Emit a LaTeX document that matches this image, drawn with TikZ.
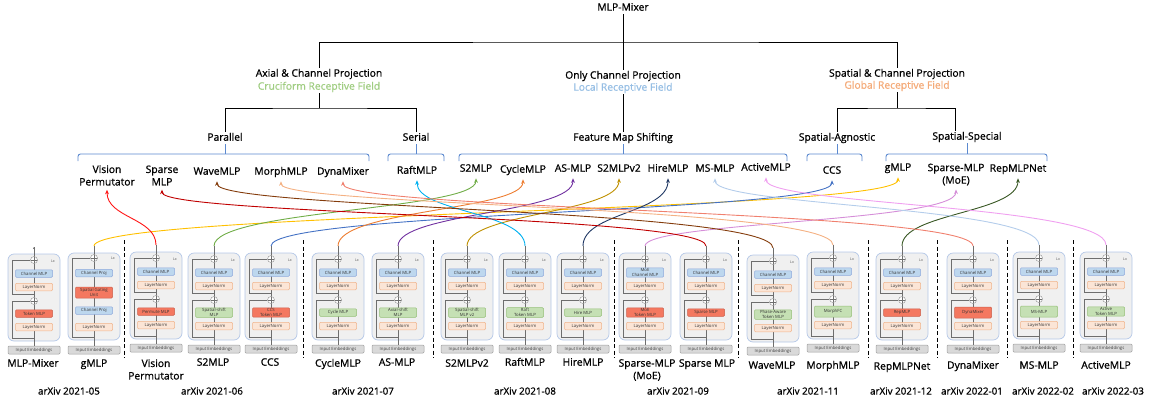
\documentclass[tikz,border=0pt]{standalone}
\usepackage{fontspec}
\setmainfont{Open Sans}
\newfontfamily\heavyfont{Open Sans}[FakeBold=0.9]
\usetikzlibrary{arrows.meta}

% tree and bracket colours
\definecolor{brkblue}{RGB}{91,137,207}
\definecolor{crucgreen}{RGB}{160,205,130}
\definecolor{localblue}{RGB}{150,190,228}
\definecolor{globalorange}{RGB}{244,170,120}
% block colours
\definecolor{blkfill}{RGB}{240,240,240}
\definecolor{blkborder}{RGB}{180,199,231}
\definecolor{bluefill}{RGB}{189,215,238}
\definecolor{blueborder}{RGB}{143,170,220}
\definecolor{lnfill}{RGB}{251,229,214}
\definecolor{lnborder}{RGB}{240,180,140}
\definecolor{redfill}{RGB}{244,120,96}
\definecolor{redborder}{RGB}{205,95,75}
\definecolor{greenfill}{RGB}{197,224,180}
\definecolor{greenborder}{RGB}{150,192,120}
\definecolor{barfill}{RGB}{217,217,217}
\definecolor{barborder}{RGB}{160,160,160}
\definecolor{wiregray}{RGB}{110,110,110}
% link colours
\definecolor{cGMLP}{RGB}{255,192,0}
\definecolor{cVIP}{RGB}{255,20,20}
\definecolor{cSTwo}{RGB}{112,173,71}
\definecolor{cCCS}{RGB}{68,114,196}
\definecolor{cCycle}{RGB}{237,125,49}
\definecolor{cAS}{RGB}{112,48,160}
\definecolor{cSTwoV}{RGB}{191,144,0}
\definecolor{cRaft}{RGB}{0,176,240}
\definecolor{cHire}{RGB}{32,56,100}
\definecolor{cMoE}{RGB}{213,142,216}
\definecolor{cSparse}{RGB}{192,0,0}
\definecolor{cWave}{RGB}{132,60,12}
\definecolor{cMorph}{RGB}{244,177,131}
\definecolor{cRep}{RGB}{56,87,35}
\definecolor{cDyna}{RGB}{240,128,110}
\definecolor{cMS}{RGB}{180,205,235}
\definecolor{cActive}{RGB}{240,160,240}

\tikzset{
  tree/.style={line width=0.8pt, draw=black},
  brk/.style={line width=0.9pt, draw=brkblue, rounded corners=2.5pt},
  lvl/.style={font=\heavyfont\fontsize{10.3}{12}\selectfont, inner sep=1pt, text height=7.8pt, text depth=2.4pt},
  tn/.style={font=\heavyfont\fontsize{10.3}{12.5}\selectfont, inner xsep=1pt, inner ysep=4pt, align=center},
  tnone/.style={tn, text height=7.8pt, text depth=2.4pt},
  bn/.style={font=\heavyfont\fontsize{10.3}{12.5}\selectfont, inner sep=1pt, align=center},
  bnone/.style={bn, text height=7.8pt, text depth=2.4pt},
  dt/.style={font=\heavyfont\fontsize{9.8}{12}\selectfont, inner sep=1pt},
  outerbox/.style={draw=blkborder, fill=blkfill, line width=0.7pt, rounded corners=6pt,
    minimum width=52pt, minimum height=87pt, inner sep=0pt},
  inbar/.style={draw=barborder, fill=barfill, line width=0.5pt, rounded corners=1pt,
    minimum width=52pt, minimum height=8pt, inner sep=0pt,
    font=\fontsize{4.3}{5}\selectfont, text=black!75},
  sub/.style={line width=0.5pt, rounded corners=1pt, minimum width=37pt, minimum height=7.5pt,
    inner sep=0.6pt, align=center, font=\fontsize{4.3}{5}\selectfont, text=black!80},
  bluebox/.style={sub, draw=blueborder, fill=bluefill},
  lnbox/.style={sub, draw=lnborder, fill=lnfill},
  redbox/.style={sub, draw=redborder, fill=redfill},
  greenbox/.style={sub, draw=greenborder, fill=greenfill},
  tall/.style={minimum height=11pt},
  wire/.style={draw=wiregray, line width=0.5pt},
  plus/.style={circle, draw=wiregray!80, fill=white, line width=0.4pt, minimum size=7pt, inner sep=0pt,
    path picture={\draw[wiregray, line width=0.4pt]
      (path picture bounding box.north) -- (path picture bounding box.south)
      (path picture bounding box.west) -- (path picture bounding box.east);}},
  lxlbl/.style={font=\fontsize{3.6}{4}\selectfont, inner sep=0pt, text=black!70},
  cv/.style={line width=0.9pt, -{Stealth[length=4.5pt, width=3.8pt]}},
  dsh/.style={line width=0.9pt, dash pattern=on 4pt off 2.5pt},
}

% residual block: prefix, left x, top y, upper text, upper style, token text, token style
\newcommand\mlpblk[7]{%
\begin{scope}[shift={(#2,#3)}]
  \node[outerbox] (#1-box) at (26,43.5) {};
  \node[inbar] (#1-in) at (26,96) {Input Embeddings};
  \coordinate (#1-top) at (26,-7);
  \coordinate (#1-sa) at (26,84);
  \coordinate (#1-sb) at (26,40);
  \draw[wire] (#1-in.north) -- (#1-top);
  \node[plus] (#1-c1) at (26,6) {};
  \node[plus] (#1-c2) at (26,47) {};
  \node[#5] (#1-a) at (26,19.5) {#4};
  \node[lnbox] (#1-n1) at (26,33) {LayerNorm};
  \node[#7] (#1-b) at (26,59.5) {#6};
  \node[lnbox] (#1-n2) at (26,73) {LayerNorm};
  \draw[wire] (#1-sa) -| (4,47) -- (#1-c2.west);
  \draw[wire] (#1-sb) -| (4,6) -- (#1-c1.west);
  \node[lxlbl] (#1-lx) at (45,7) {Lx};
\end{scope}}

% gated block with a single residual
\newcommand\gmlpblk[3]{%
\begin{scope}[shift={(#2,#3)}]
  \node[outerbox] (#1-box) at (26,43.5) {};
  \node[inbar] (#1-in) at (26,97) {Input Embeddings};
  \coordinate (#1-top) at (26,-7);
  \coordinate (#1-sa) at (26,84);
  \draw[wire] (#1-in.north) -- (#1-top);
  \node[plus] (#1-c1) at (26,5) {};
  \node[bluebox] (#1-a) at (26,20) {Channel Proj};
  \node[redbox, tall] (#1-g) at (26,39.5) {Spatial Gating\\Unit};
  \node[bluebox] (#1-b) at (26,57.5) {Channel Proj};
  \node[lnbox] (#1-n) at (26,74) {LayerNorm};
  \draw[wire] (#1-sa) -| (4,5) -- (#1-c1.west);
  \node[lxlbl] (#1-lx) at (45,5) {Lx};
\end{scope}}

% curved link from a block output up to a method name
\newcommand\link[4]{\draw[cv, #1] (#2) .. controls (#2 |- 0,#4) and (#3 |- 0,#4) .. (#3);}

\begin{document}
\begin{tikzpicture}[x=1pt, y=-1pt]
\useasboundingbox (0,0) rectangle (1153,402);

% ---------------- taxonomy tree ----------------
\node[lvl] (root) at (623,8) {MLP-Mixer};
\coordinate (j0) at (623,42);
\node[lvl] (axial) at (319,74) {Axial \& Channel Projection};
\node[lvl, text=crucgreen] (axialrf) at (319,87) {Cruciform Receptive Field};
\node[lvl] (only) at (623,76) {Only Channel Projection};
\node[lvl, text=localblue] (onlyrf) at (623,88) {Local Receptive Field};
\node[lvl] (spat) at (897,74) {Spatial \& Channel Projection};
\node[lvl, text=globalorange] (spatrf) at (897,86) {Global Receptive Field};
\draw[tree] (root.south) -- (only.north);
\draw[tree] (axial.north) |- (j0) -| (spat.north);

\coordinate (ja) at (319,108);
\node[lvl] (par) at (225,138) {Parallel};
\node[lvl] (ser) at (416,138) {Serial};
\draw[tree] (axialrf.south) -- (ja);
\draw[tree] (par.north) |- (ja) -| (ser.north);

\node[lvl] (fms) at (623,138) {Feature Map Shifting};
\draw[tree] (onlyrf.south) -- (fms.north);

\coordinate (jg) at (897,108);
\node[lvl] (agn) at (837,138) {Spatial-Agnostic};
\node[lvl] (spe) at (967,137) {Spatial-Special};
\coordinate (spetop) at (955,131);
\draw[tree] (spatrf.south) -- (jg);
\draw[tree] (agn.north) |- (jg) -| (spetop);

% brackets
\draw[brk] (78,161) |- (369,154) -- (369,161);
\draw[brk] (par.south) -- (225,154);
\draw[brk] (388,161) |- (444,154) -- (444,161);
\draw[brk] (ser.south) -- (416,154);
\draw[brk] (459,161) |- (787,154) -- (787,161);
\draw[brk] (fms.south) -- (623,154);
\draw[brk] (807,161) |- (862,154) -- (862,161);
\draw[brk] (agn.south) -- (837,154);
\draw[brk] (886,161) |- (1047,154) -- (1047,161);
\draw[brk] (spe.south) -- (967,154);

% method names
\node[tn] (t-vip) at (107,175.5) {Vision\\Permutator};
\node[tn] (t-sparse) at (162,175.5) {Sparse\\MLP};
\node[tnone] (t-wave) at (217,172) {WaveMLP};
\node[tnone] (t-morph) at (281,172) {MorphMLP};
\node[tnone] (t-dyna) at (343,172) {DynaMixer};
\node[tnone] (t-raft) at (417,171) {RaftMLP};
\node[tnone] (t-s2) at (476,169) {S2MLP};
\node[tnone] (t-cycle) at (523,170) {CycleMLP};
\node[tnone] (t-as) at (573,169) {AS-MLP};
\node[tnone] (t-s2v) at (619,169) {S2MLPv2};
\node[tnone] (t-hire) at (668,169) {HireMLP};
\node[tnone] (t-ms) at (715,169) {MS-MLP};
\node[tnone] (t-act) at (766,168) {ActiveMLP};
\node[tnone] (t-ccs) at (832,171) {CCS};
\node[tnone] (t-gmlp) at (898,168) {gMLP};
\node[tn] (t-moe) at (956,174.5) {Sparse-MLP\\(MoE)};
\node[tnone] (t-rep) at (1018,169) {RepMLPNet};

% ---------------- timeline separators ----------------
\foreach \i/\xx in {1/124,2/303,3/433,4/614,5/738,6/868,7/937,8/1007,9/1073}{
  \coordinate (sep\i-t) at (\xx,240);
  \coordinate (sep\i-b) at (\xx,358);
  \draw[dsh] (sep\i-t) -- (sep\i-b);
}

% ---------------- architecture blocks ----------------
\mlpblk{mix}{8}{254}{Channel MLP}{bluebox}{Token MLP}{redbox}
\gmlpblk{gm}{68}{253}
\mlpblk{vip}{130}{252}{Channel MLP}{bluebox}{Permute MLP}{redbox}
\mlpblk{s2}{188}{253}{Channel MLP}{bluebox}{Spatial-shift\\MLP}{greenbox}
\mlpblk{ccs}{245}{253}{Channel MLP}{bluebox}{CCS\\Token MLP}{redbox}
\mlpblk{cyc}{312}{253}{Channel MLP}{bluebox}{Cycle MLP}{greenbox}
\mlpblk{as}{372}{253}{Channel MLP}{bluebox}{Axial-shift\\MLP}{greenbox}
\mlpblk{s2v}{441}{253}{Channel MLP}{bluebox}{Spatial-shift\\MLP v2}{greenbox}
\mlpblk{raft}{499}{253}{Channel MLP}{bluebox}{Raft\\Token MLP}{greenbox}
\mlpblk{hire}{557}{253}{Channel MLP}{bluebox}{Hire MLP}{greenbox}
\mlpblk{moe}{619}{253}{MoE\\Channel MLP}{bluebox}{MoE\\Token MLP}{redbox}
\mlpblk{sp}{680}{253}{Channel MLP}{bluebox}{Sparse MLP}{redbox}
\mlpblk{wave}{747}{255}{Channel MLP}{bluebox}{Phase-Aware\\Token MLP}{greenbox}
\mlpblk{morph}{807}{252}{Channel MLP}{bluebox}{MorphFC}{greenbox,tall}
\mlpblk{rep}{876}{253}{Channel MLP}{bluebox}{RepMLP}{redbox}
\mlpblk{dyna}{947}{253}{Channel MLP}{bluebox}{DynaMixer}{redbox,tall}
\mlpblk{ms}{1013}{252}{Channel MLP}{bluebox}{MS-MLP}{greenbox,tall}
\mlpblk{act}{1080}{252}{Channel MLP}{bluebox}{Active\\Token MLP}{greenbox}
\draw[wire, -{Stealth[length=2.2pt, width=2.2pt]}] (mix-c1) -- (mix-top);

% block names
\node[bnone] (b-mix) at (33,364) {MLP-Mixer};
\node[bnone] (b-gm) at (94,364) {gMLP};
\node[bn] (b-vip) at (156,369.5) {Vision\\Permutator};
\node[bnone] (b-s2) at (213,363) {S2MLP};
\node[bnone] (b-ccs) at (270,363) {CCS};
\node[bnone] (b-cyc) at (338,364) {CycleMLP};
\node[bnone] (b-as) at (397,363) {AS-MLP};
\node[bnone] (b-s2v) at (467,364) {S2MLPv2};
\node[bnone] (b-raft) at (525,363) {RaftMLP};
\node[bnone] (b-hire) at (583,363) {HireMLP};
\node[bn] (b-moe) at (647,370) {Sparse-MLP\\(MoE)};
\node[bnone] (b-sp) at (707,364) {Sparse MLP};
\node[bnone] (b-wave) at (772,366) {WaveMLP};
\node[bnone] (b-morph) at (833,366) {MorphMLP};
\node[bnone] (b-rep) at (902,367) {RepMLPNet};
\node[bnone] (b-dyna) at (973,366) {DynaMixer};
\node[bnone] (b-ms) at (1039,366) {MS-MLP};
\node[bnone] (b-act) at (1106,366) {ActiveMLP};

% dates
\node[dt] (d1) at (69,391) {arXiv 2021-05};
\node[dt] (d2) at (212,391) {arXiv 2021-06};
\node[dt] (d3) at (363,391) {arXiv 2021-07};
\node[dt] (d4) at (525,391) {arXiv 2021-08};
\node[dt] (d5) at (678,391) {arXiv 2021-09};
\node[dt] (d6) at (808,391) {arXiv 2021-11};
\node[dt] (d7) at (901,391) {arXiv 2021-12};
\node[dt] (d8) at (972,391) {arXiv 2022-01};
\node[dt] (d9) at (1043,391) {arXiv 2022-02};
\node[dt] (d10) at (1113,391) {arXiv 2022-03};

% ---------------- links from blocks to names ----------------
\link{cGMLP}{gm-top}{t-gmlp.south}{212}
\link{cVIP}{vip-top}{t-vip.south}{218}
\link{cSTwo}{s2-top}{t-s2.south}{210}
\link{cCCS}{ccs-top}{t-ccs.south}{212}
\link{cCycle}{cyc-top}{t-cycle.south}{210}
\link{cAS}{as-top}{t-as.south}{213}
\link{cSTwoV}{s2v-top}{t-s2v.south}{213}
\link{cRaft}{raft-top}{t-raft.south}{212}
\link{cHire}{hire-top}{t-hire.south}{213}
\link{cMoE}{moe-top}{t-moe.south}{222}
\link{cSparse}{sp-top}{t-sparse.south}{215}
\link{cWave}{wave-top}{t-wave.south}{209}
\link{cMorph}{morph-top}{t-morph.south}{206}
\link{cRep}{rep-top}{t-rep.south}{213}
\link{cDyna}{dyna-top}{t-dyna.south}{210}
\link{cMS}{ms-top}{t-ms.south}{206}
\link{cActive}{act-top}{t-act.south}{205}

\end{tikzpicture}
\end{document}
